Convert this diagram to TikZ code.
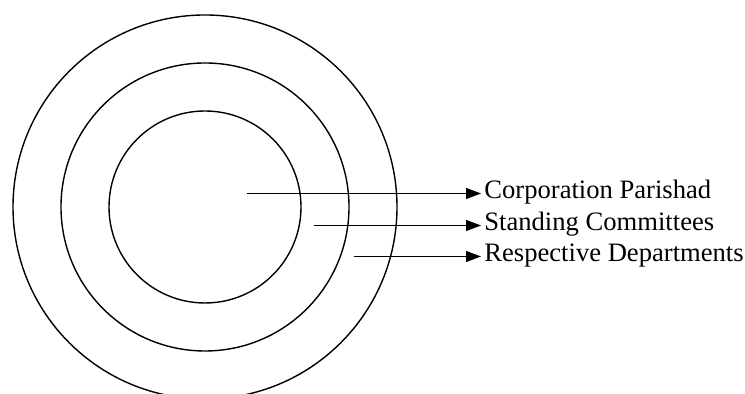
\documentclass[tikz,border=0pt]{standalone}
\usepackage{fontspec}
\setmainfont{Liberation Serif}
\usetikzlibrary{arrows.meta,positioning}

\begin{document}
\begin{tikzpicture}[
	x=0.5pt,y=0.5pt,
	ring/.style={draw,line width=0.7pt},
	pointer/.style={-{Triangle[length=7.5pt,width=5.5pt]},line width=0.6pt},
	label/.style={anchor=mid west,inner sep=0pt,font=\fontsize{13.3}{16}\selectfont}
	]
	
	\useasboundingbox (0,0) rectangle (745,394);
	
	% Cerchi concentrici
	\coordinate (ctr) at (205,187);
	\draw[ring] (ctr) circle[radius=96];
	\draw[ring] (ctr) circle[radius=144];
	\draw[ring] (ctr) circle[radius=192];
	
	% Etichette
	\node[label] (parishad) at (484,200.5) {Corporation Parishad};
	\node[label] (committees) at (484,168.5) {Standing Committees};
	\node[label] (departments) at (484,137.5) {Respective Departments};
	
	% Punti di partenza
	\coordinate (s1) at (247,200.5);
	\coordinate (s2) at (314,168.5);
	\coordinate (s3) at (354,137.5);
	
	% Frecce
	\draw[pointer] (s1) -- ([xshift=-1.5pt]s1 -| parishad.west);
	\draw[pointer] (s2) -- ([xshift=-1.5pt]s2 -| committees.west);
	\draw[pointer] (s3) -- ([xshift=-1.5pt]s3 -| departments.west);
	
\end{tikzpicture}
\end{document}
